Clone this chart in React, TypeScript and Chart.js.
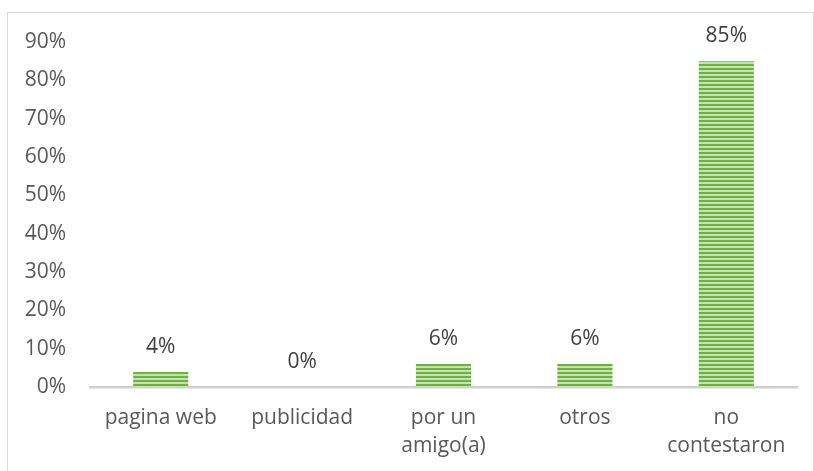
import React, { useEffect, useRef } from 'react';
import { Chart, registerables } from 'chart.js';

Chart.register(...registerables);

const categories: string[][] = [['pagina web'], ['publicidad'], ['por un', 'amigo(a)'], ['otros'], ['no', 'contestaron']];
const values: number[] = [4, 0, 6, 6, 85];
const yMax = 90;
const yStep = 10;

const FONT = '"Open Sans", "Noto Sans", sans-serif';
const FONT_SIZE = 21;

function makePattern(ctx: CanvasRenderingContext2D): CanvasPattern | string {
  const c = document.createElement('canvas');
  c.width = 4;
  c.height = 4;
  const g = c.getContext('2d');
  if (!g) return '#70ad47';
  g.fillStyle = '#c6e1b3';
  g.fillRect(0, 0, 4, 4);
  g.fillStyle = '#6fb043';
  g.fillRect(0, 0, 4, 2);
  return ctx.createPattern(c, 'repeat') || '#70ad47';
}

const valueLabels = {
  id: 'valueLabels',
  afterDatasetsDraw(chart: any) {
    const ctx = chart.ctx as CanvasRenderingContext2D;
    const meta = chart.getDatasetMeta(0);
    ctx.save();
    ctx.font = `${FONT_SIZE}px ${FONT}`;
    ctx.fillStyle = '#404040';
    ctx.textAlign = 'center';
    ctx.textBaseline = 'middle';
    meta.data.forEach((el: any, i: number) => {
      ctx.fillText(`${values[i]}%`, el.x, el.y - 25);
    });
    ctx.restore();
  },
};

export default function App() {
  const ref = useRef<HTMLCanvasElement | null>(null);

  useEffect(() => {
    document.documentElement.style.overflow = 'hidden';
    document.body.style.overflow = 'hidden';
    const canvas = ref.current;
    if (!canvas) return;
    const ctx = canvas.getContext('2d');
    if (!ctx) return;
    const pattern = makePattern(ctx);
    const chart = new Chart(canvas, {
      type: 'bar',
      data: {
        labels: categories,
        datasets: [
          {
            data: values,
            backgroundColor: pattern as any,
            borderWidth: 0,
            categoryPercentage: 1,
            barPercentage: 0.39,
          },
        ],
      },
      plugins: [valueLabels],
      options: {
        responsive: false,
        animation: false,
        devicePixelRatio: 1,
        layout: { padding: { left: 0, right: 17, top: 42, bottom: 0 } },
        plugins: { legend: { display: false }, tooltip: { enabled: false } },
        scales: {
          x: {
            grid: { display: false, drawTicks: false },
            border: { display: true, color: '#d0d0d0', width: 2.5 },
            ticks: {
              color: '#595959',
              font: { family: FONT, size: FONT_SIZE, lineHeight: 1.33 },
              padding: 17,
              maxRotation: 0,
              autoSkip: false,
            },
            afterFit: (s: any) => {
              s.height = 84;
            },
          },
          y: {
            min: 0,
            max: yMax,
            grid: { display: false, drawTicks: false },
            border: { display: false },
            ticks: {
              stepSize: yStep,
              color: '#595959',
              font: { family: FONT, size: FONT_SIZE },
              padding: 24,
              callback: (v: any) => `${v}%`,
            },
            afterFit: (s: any) => {
              s.width = 90;
            },
          },
        },
      },
    });
    return () => chart.destroy();
  }, []);

  return (
    <div style={{ position: 'absolute', left: 0, top: 0, width: 814, height: 471, overflow: 'hidden', background: '#fff' }}>
      <div
        style={{
          position: 'absolute',
          left: 7,
          top: 12,
          width: 807,
          height: 480,
          border: '1px solid #d9d9d9',
          boxSizing: 'border-box',
        }}
      />
      <canvas ref={ref} width={814} height={471} style={{ position: 'absolute', left: 0, top: 0, width: 814, height: 471 }} />
    </div>
  );
}
